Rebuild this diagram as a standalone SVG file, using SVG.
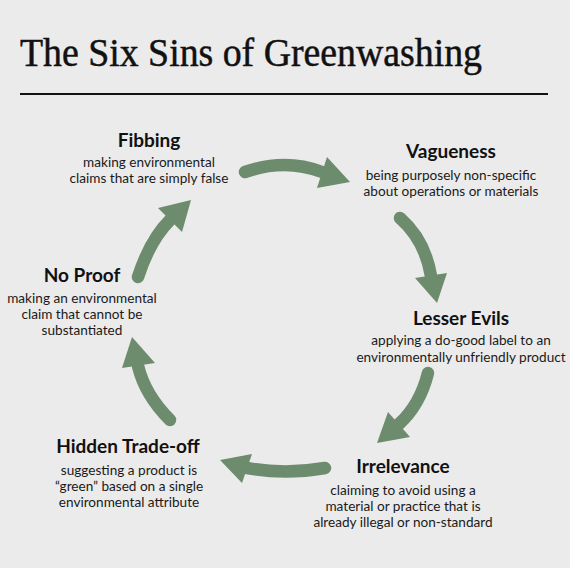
<svg xmlns="http://www.w3.org/2000/svg" width="570" height="568" viewBox="0 0 570 568">
<style>
.bg{fill:#ebebeb}
.title{font-family:"Liberation Serif","DejaVu Serif",serif;font-size:40px;fill:#111;stroke:#111;stroke-width:0.5}
.h{font-family:Lato,"Liberation Sans",sans-serif;font-weight:bold;font-size:19px;fill:#111;text-anchor:middle}
.d{font-family:Lato,"Liberation Sans",sans-serif;font-size:13.6px;fill:#1a1a1a;text-anchor:middle}
.shaft{fill:none;stroke:#6d8c6d;stroke-width:12.5;stroke-linecap:round}
.head{fill:#6d8c6d}
</style>
<rect class="bg" x="0" y="0" width="570" height="568"/>
<g id="title">
<text class="title" x="20" y="66" textLength="462" lengthAdjust="spacingAndGlyphs">The Six Sins of Greenwashing</text>
<line x1="20" y1="94" x2="548" y2="94" stroke="#111" stroke-width="2"/>
</g>
<g id="connectors">
<path class="shaft" d="M245,172 Q285,158 322,172"/>
<polygon class="head" points="327,157 350,182 317,188"/>
<path class="shaft" d="M400,218 Q425,240 431,276"/>
<polygon class="head" points="415,278 437,303 447,273"/>
<path class="shaft" d="M428,373 Q420,405 399,424"/>
<polygon class="head" points="388,412 377,443 410,437"/>
<path class="shaft" d="M325,468 Q285,475 247,468"/>
<polygon class="head" points="252,454 220,460 242,483"/>
<path class="shaft" d="M170,420 Q145,395 138,366"/>
<polygon class="head" points="122,368 132,337 155,363"/>
<path class="shaft" d="M138,277 Q150,240 170,220"/>
<polygon class="head" points="158,208 191,200 182,232"/>
</g>
<g id="fibbing">
<text class="h" x="149" y="147">Fibbing</text>
<text class="d" x="149" y="167">making environmental</text>
<text class="d" x="149" y="183">claims that are simply false</text>
</g>
<g id="vagueness">
<text class="h" x="451" y="158">Vagueness</text>
<text class="d" x="451" y="180">being purposely non-specific</text>
<text class="d" x="451" y="196">about operations or materials</text>
</g>
<g id="lesser-evils">
<text class="h" x="461" y="325">Lesser Evils</text>
<text class="d" x="461" y="345">applying a do-good label to an</text>
<text class="d" x="461" y="362">environmentally unfriendly product</text>
</g>
<g id="irrelevance">
<text class="h" x="403" y="473">Irrelevance</text>
<text class="d" x="403" y="495">claiming to avoid using a</text>
<text class="d" x="403" y="511">material or practice that is</text>
<text class="d" x="403" y="527">already illegal or non-standard</text>
</g>
<g id="hidden-trade-off">
<text class="h" x="128" y="453">Hidden Trade-off</text>
<text class="d" x="129" y="475">suggesting a product is</text>
<text class="d" x="129" y="491">“green” based on a single</text>
<text class="d" x="129" y="507">environmental attribute</text>
</g>
<g id="no-proof">
<text class="h" x="82" y="282">No Proof</text>
<text class="d" x="82" y="303">making an environmental</text>
<text class="d" x="82" y="319">claim that cannot be</text>
<text class="d" x="82" y="335">substantiated</text>
</g>
</svg>
